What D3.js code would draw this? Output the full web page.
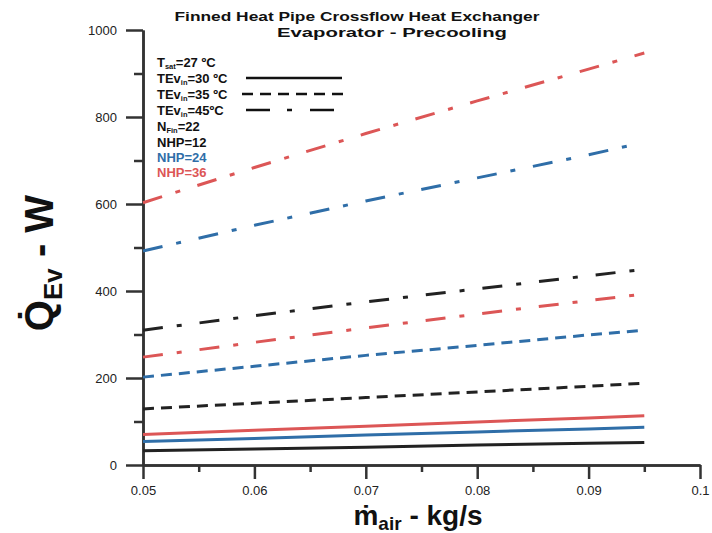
<!DOCTYPE html>
<html>
<head>
<meta charset="utf-8">
<script src="https://cdn.jsdelivr.net/npm/d3@7"></script>
<style>
  body { margin: 0; background: #fff; }
  text { font-family: "Liberation Sans", Arial, sans-serif; }
</style>
</head>
<body>
<svg id="chart" width="712" height="533"></svg>
<script>
// mass flow of air (kg/s)
const mAir = [0.05, 0.06, 0.07, 0.08, 0.09, 0.095];

// Q_Ev in W
const q30nhp12 = [33, 37, 41, 46, 50, 52];
const q30nhp24 = [54, 61, 69, 76, 83, 87];
const q30nhp36 = [70, 80, 89, 99, 108, 113];
const q35nhp12 = [129, 142, 155, 168, 181, 188];
const q35nhp24 = [202, 227, 252, 275, 299, 310];
const q35nhp36 = [248, 282, 315, 347, 378, 393];
const q45nhp12 = [310, 343, 375, 405, 435, 450];
const q45nhp24 = [492, 551, 607, 660, 713, 742];
const q45nhp36 = [603, 684, 762, 837, 910, 947];

const xTicks = [0.05, 0.06, 0.07, 0.08, 0.09, 0.1];
const xMinorTicks = [0.055, 0.065, 0.075, 0.085, 0.095];
const yTicks = [0, 200, 400, 600, 800, 1000];
const yMinorTicks = [100, 300, 500, 700, 900];

const black = "#222", blue = "#2f6ea8", red = "#dc5656";
const solid = null, dashed = "11,7", dashDot = "20,14,5,18";

const series = [
  { v: q30nhp12, c: black, d: solid },
  { v: q30nhp24, c: blue, d: solid },
  { v: q30nhp36, c: red, d: solid },
  { v: q35nhp12, c: black, d: dashed },
  { v: q35nhp24, c: blue, d: dashed },
  { v: q35nhp36, c: red, d: dashDot },
  { v: q45nhp12, c: black, d: dashDot },
  { v: q45nhp24, c: blue, d: dashDot },
  { v: q45nhp36, c: red, d: dashDot }
];

const svg = d3.select("#chart");

const x = d3.scaleLinear().domain([0.05, 0.1]).range([143, 700]);
const y = d3.scaleLinear().domain([0, 1000]).range([465, 30]);

// axes
const axisColor = "#333";
function styleAxis(g) {
  g.selectAll("path, line").attr("stroke", axisColor).attr("stroke-width", 2.5);
  g.selectAll("text").attr("fill", "#222").attr("font-size", 13);
}

svg.append("g")
  .attr("transform", `translate(0,${y(0)})`)
  .call(d3.axisBottom(x).tickValues(xMinorTicks).tickSize(7).tickFormat("").tickSizeOuter(0))
  .call(styleAxis);
svg.append("g")
  .attr("transform", `translate(0,${y(0)})`)
  .call(d3.axisBottom(x).tickValues(xTicks).tickSize(14).tickPadding(7).tickSizeOuter(0)
    .tickFormat(d3.format(".2~f")))
  .call(styleAxis);

svg.append("g")
  .attr("transform", `translate(${x(0.05)},0)`)
  .call(d3.axisLeft(y).tickValues(yMinorTicks).tickSize(9).tickFormat("").tickSizeOuter(0))
  .call(styleAxis);
svg.append("g")
  .attr("transform", `translate(${x(0.05)},0)`)
  .call(d3.axisLeft(y).tickValues(yTicks).tickSize(17).tickPadding(9).tickSizeOuter(0)
    .tickFormat(d3.format("d")))
  .call(styleAxis);

// curves
const line = d3.line()
  .x((d, i) => x(mAir[i]))
  .y(d => y(d));

svg.append("g")
  .selectAll("path")
  .data(series)
  .enter()
  .append("path")
  .attr("d", d => line(d.v))
  .attr("fill", "none")
  .attr("stroke", d => d.c)
  .attr("stroke-width", 3)
  .attr("stroke-dasharray", d => d.d);

// title (wide bold face, stretched to the original width)
svg.append("text")
  .attr("x", 357).attr("y", 21)
  .attr("text-anchor", "middle")
  .attr("font-size", 13).attr("font-weight", "bold").attr("fill", "#111")
  .attr("textLength", 365).attr("lengthAdjust", "spacingAndGlyphs")
  .text("Finned Heat Pipe Crossflow Heat Exchanger");
svg.append("text")
  .attr("x", 392).attr("y", 37)
  .attr("text-anchor", "middle")
  .attr("font-size", 13).attr("font-weight", "bold").attr("fill", "#111")
  .attr("textLength", 230).attr("lengthAdjust", "spacingAndGlyphs")
  .text("Evaporator - Precooling");

// legend
const leg = svg.append("g").attr("font-size", 13).attr("font-weight", "bold");
function legendRow(yy, main, sub, rest, color) {
  const t = leg.append("text").attr("x", 157).attr("y", yy).attr("fill", color || "#111");
  t.append("tspan").text(main);
  if (sub) {
    t.append("tspan").attr("dy", 2).attr("font-size", 7.5).text(sub);
    t.append("tspan").attr("dy", -2).text(rest);
  }
  return t;
}
legendRow(67, "T", "sat", "=27 \u00baC");
legendRow(83, "TEv", "in", "=30 \u00baC");
legendRow(99, "TEv", "in", "=35 \u00baC");
legendRow(115, "TEv", "in", "=45\u00baC");
legendRow(131, "N", "Fin", "=22");
legendRow(147, "NHP=12", null, null);
legendRow(162, "NHP=24", null, null, blue);
legendRow(177, "NHP=36", null, null, red);

const legendLines = [
  { x1: 246, x2: 342, yy: 78, d: solid },
  { x1: 242, x2: 347, yy: 94, d: dashed },
  { x1: 246, x2: 340, yy: 110, d: "24,17,5,18" }
];
leg.selectAll("line")
  .data(legendLines)
  .enter()
  .append("line")
  .attr("x1", d => d.x1).attr("x2", d => d.x2)
  .attr("y1", d => d.yy).attr("y2", d => d.yy)
  .attr("stroke", "#111").attr("stroke-width", 2.5)
  .attr("stroke-dasharray", d => d.d);

// x label
const xl = svg.append("text")
  .attr("x", 418).attr("y", 525)
  .attr("text-anchor", "middle")
  .attr("font-size", 28).attr("font-weight", "bold").attr("fill", "#111");
xl.append("tspan").text("m\u0307");
xl.append("tspan").attr("dy", 5).attr("font-size", 19).text("air");
xl.append("tspan").attr("dy", -5).text(" - kg/s");

// y label
const yl = svg.append("text")
  .attr("transform", "translate(53,263) rotate(-90)")
  .attr("text-anchor", "middle")
  .attr("font-size", 40).attr("font-weight", "bold").attr("fill", "#111");
yl.append("tspan").text("Q\u0307");
yl.append("tspan").attr("dy", 9).attr("font-size", 26).text("Ev");
yl.append("tspan").attr("dy", -9).text(" - W");
</script>
</body>
</html>
